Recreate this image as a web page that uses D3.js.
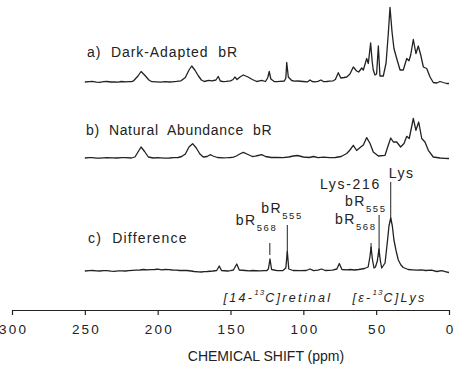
<!DOCTYPE html>
<html>
<head>
<meta charset="utf-8">
<script src="https://cdn.jsdelivr.net/npm/d3@7"></script>
<style>
  html, body { margin: 0; padding: 0; background: #fff; }
  svg { display: block; font-family: "Liberation Sans", Arial, Helvetica, sans-serif; }
</style>
</head>
<body>
<svg id="chart" width="456" height="368"></svg>
<script>
// ---------------- DATA ----------------
const ppmTicks = [300, 250, 200, 150, 100, 50, 0];
const axisTitle = "CHEMICAL SHIFT (ppm)";
const panelLabels = ["a)\u00a0 Dark-Adapted\u00a0 bR", "b)\u00a0 Natural\u00a0 Abundance\u00a0 bR", "c)\u00a0 Difference"];

// [ppm, intensity]
const specA = [[250,0],[247,0.4],[245,0.6],[242,-0.2],[240,-0.3],[237,0.3],[235,0.5],[232,0],[230,0.1],[227,-0.2],[225,0.5],[222,0.1],[220,0.3],[218,0.4],[216.5,1.2],[213.5,6],[211.4,10.5],[209,7],[206,2],[204,0.3],[201,0.2],[198,-0.2],[195,0.4],[192,0],[190,0.2],[187,0.6],[184,1.2],[181,4.5],[178.5,12],[176.6,16],[174.5,12],[172,6],[170,2],[168,0.5],[165,1.6],[162.7,1.1],[160,2],[158.4,5.5],[157,1],[155,0.3],[153,0.6],[150,1.2],[148.2,2.5],[147,5],[145.5,2.5],[143.5,5],[141.2,7],[138,5],[135,2.5],[132,0.5],[130,1.2],[128.6,1.6],[126,0.5],[124.5,4],[123.4,10.5],[122.3,3],[120,0.5],[118,0.3],[116,0.6],[113,1],[112,4],[111.4,19.5],[110.3,5],[108,1.5],[106,0.8],[104,1],[100,0.5],[97,0.2],[95.4,2],[94,0.5],[92,0.2],[90,0.6],[87.9,2],[86,0.3],[84,0.5],[82,0.8],[79.5,1.2],[78,2.5],[76,9.3],[74.3,4],[72,4.5],[70.2,5],[68,8],[65.7,15],[63.4,11],[62,10],[59.9,14],[58.8,12],[56.5,23.5],[55.4,18.5],[53.8,39],[52.7,20],[52,12],[50.8,7],[49.7,8],[48.5,36],[47.4,6],[45.1,6],[43.2,19],[41.7,48],[40.5,74.5],[39.1,50],[37.8,33.5],[35.9,23.5],[33.6,12],[31.4,12],[29,23.5],[27.5,21.3],[26.3,27],[24.5,42.5],[22.7,28.5],[21.1,36],[19.4,27],[17.6,15],[15.3,13.5],[13,5],[10.8,-0.5],[8.4,-1],[6.2,0.5],[4,-0.5],[1.6,-1.5],[0,-1.5]];

const specB = [[250,0],[247,0.3],[245,0.4],[242,-0.1],[240,-0.2],[237,0.2],[235,0.4],[231,0.1],[228,0],[225,0.3],[222,0.3],[218,0],[215.6,1],[213.5,6],[211.4,11],[209,6.5],[206.4,1],[203,0],[200,0.3],[198,0.2],[195,-0.1],[192,0],[189,0.3],[186,0.5],[183.5,1.5],[181,4],[178.5,11],[176,14.3],[173.5,10],[171,4],[168.7,1],[166,1.5],[164,3.3],[162,2],[159,0.5],[155,0.2],[152,0.3],[150,0.5],[148,0.8],[146,2],[143,4.5],[141.2,5.6],[138,3.5],[135,1.5],[133,1.8],[131,2.5],[128.6,3.3],[126,1.5],[122,0.5],[118,0.5],[114,0.3],[110,1],[106.9,2],[104,2.5],[100,1],[96,0.5],[93,1.5],[90,0.3],[86,0.8],[82,0.3],[78,0.5],[74,1.5],[70.2,4.5],[68,8],[65.7,12.7],[63.4,7.5],[60.6,11],[58.8,13],[56.5,20.4],[54.2,14.5],[52,6],[48.5,2],[43.9,2.7],[41.7,12.7],[40,20],[38.2,16],[35.9,16],[33.2,11],[30.9,14.5],[29,21.7],[27.3,19.5],[24.5,39.5],[22.7,27.7],[20.8,36],[18.7,19.5],[16.5,16],[14.2,7.7],[10.8,1],[6.2,0],[3,-0.3],[0.5,-0.5],[0,-0.5]];

const specC = [[250,0],[247,0.4],[245,0.5],[242,0.1],[240,0],[237,0.4],[235,0.3],[232,-0.1],[230,-0.3],[227,0.1],[225,0.2],[222,0],[220,0.3],[217,0.6],[215,0.8],[212,1],[210,1.5],[207,1.1],[205,1.3],[202,1.5],[200,1.8],[197,1.2],[195,1.5],[192,1.3],[190,1],[187,0.8],[185,0.5],[182,0.7],[180,0.5],[177,0],[175,-0.5],[172,-0.8],[170,-1],[168,-0.6],[166,-0.5],[162,0],[159.5,0.5],[157.7,5],[156.2,0.5],[152,0],[150,0.4],[148,1],[145.7,7],[144,1],[140,0.5],[137,0.2],[135,0.5],[130,0.2],[127,0.4],[125,0.5],[124,2],[122.9,12],[121.8,1.5],[118,0.3],[114,0.5],[112,3],[111,19.5],[110,2],[107,0.5],[102,0.3],[98,0.5],[95.4,2],[93,0.3],[90,0.8],[87.4,2],[85,0.5],[80,0.8],[77,2],[75.3,7.5],[73.5,1.5],[70,1.2],[68,1.5],[65,1],[62,1.5],[58,2.5],[55.5,4],[54.2,15],[53.5,24],[52.6,12],[51.5,3],[50.5,4],[49.2,10],[48.1,22],[47.1,10],[46.2,3],[43.9,8],[42.4,28],[41.2,45],[40,53],[38.9,45],[37.8,31],[36.3,20],[34.8,11],[33,6],[31.4,3.5],[28,1.5],[25,1.2],[22,0.8],[19,1.1],[16,0.5],[12,0.8],[8.4,-0.5],[5,0.3],[2,-0.8],[0,-1.5]];

// peak annotations on the difference spectrum
const peakNames = ["bR", "bR", "bR", "bR", "Lys"];
const peakSubs  = ["568", "555", "568", "555", ""];
const peakPpm   = [123, 111, 53.5, 48, 40];
const groupLabel = "Lys-216";
const isotopeLabels = [["[14-", "13", "C]retinal"], ["[\u03b5-", "13", "C]Lys"]];

// ---------------- LAYOUT ----------------
const svg = d3.select("#chart");
const ink = "#222";

const x = d3.scaleLinear().domain([300, 0]).range([12, 449]);
const baselines = [82, 158, 271];
const yScales = baselines.map(b => d3.scaleLinear().domain([0, 100]).range([b, b - 100]));
const spectra = [specA, specB, specC];

spectra.forEach((s, i) => {
  const line = d3.line().x(d => x(d[0])).y(d => yScales[i](d[1])).curve(d3.curveLinear);
  svg.append("path").datum(s).attr("d", line)
    .attr("fill", "none").attr("stroke", ink).attr("stroke-width", 1.3)
    .attr("stroke-linejoin", "round");
});

// panel labels
const labelPos = [{x: 87, y: 57.3, w: 150}, {x: 86, y: 135, w: 185.5}, {x: 88, y: 242.7, w: 98.5}];
panelLabels.forEach((t, i) => {
  svg.append("text").attr("x", labelPos[i].x).attr("y", labelPos[i].y)
    .attr("textLength", labelPos[i].w).attr("lengthAdjust", "spacing")
    .attr("font-size", 14).attr("fill", ink).text(t);
});

// peak annotations
const annLayout = [
  {top: 243, bot: 255, dx: -34, ty: 225},
  {top: 225, bot: 257, dx: -26, ty: 213},
  {top: 243, bot: 253, dx: -36, ty: 223.5},
  {top: 215, bot: 257, dx: -34, ty: 205.5},
  {top: 182, bot: 220, dx: -2,  ty: 178}
];
peakPpm.forEach((p, i) => {
  const lx = x(p), L = annLayout[i];
  svg.append("line").attr("x1", lx).attr("x2", lx).attr("y1", L.top).attr("y2", L.bot)
    .attr("stroke", ink).attr("stroke-width", 1);
  const t = svg.append("text").attr("x", lx + L.dx).attr("y", L.ty)
    .attr("font-size", 14).attr("letter-spacing", 1.5).attr("fill", ink);
  t.append("tspan").text(peakNames[i]);
  if (peakSubs[i]) {
    t.append("tspan").attr("dy", 6.3).attr("dx", 0).attr("font-size", 9.5)
      .attr("letter-spacing", 1.6).text(peakSubs[i]);
  }
});
svg.append("text").attr("x", x(peakPpm[3]) + 2).attr("y", 188.8)
  .attr("text-anchor", "end").attr("font-size", 14).attr("letter-spacing", 1.7)
  .attr("fill", ink).text(groupLabel);

// isotope labels (italic)
const isoPos = [{x: 223.5, y: 301.7}, {x: 352.5, y: 301.7}];
isotopeLabels.forEach((parts, i) => {
  const t = svg.append("text").attr("x", isoPos[i].x).attr("y", isoPos[i].y)
    .attr("font-size", 12.5).attr("font-style", "italic").attr("letter-spacing", 2.3).attr("fill", ink);
  t.append("tspan").text(parts[0]);
  t.append("tspan").attr("dy", -7).attr("font-size", 8).attr("letter-spacing", 1).text(parts[1]);
  t.append("tspan").attr("dy", 7).text(parts[2]);
});

// axis
const axis = d3.axisBottom(x).tickValues(ppmTicks).tickSizeInner(5).tickSizeOuter(0).tickPadding(9)
  .tickFormat(d3.format("d"));
const gAxis = svg.append("g").attr("transform", "translate(0,310)").call(axis);
gAxis.select(".domain").attr("stroke", ink).attr("stroke-width", 1.2);
gAxis.selectAll(".tick line").attr("stroke", ink).attr("stroke-width", 1.2);
gAxis.selectAll(".tick text").attr("font-size", 13.5).attr("font-family", null)
  .attr("letter-spacing", 2.2).attr("dx", 1.1).attr("fill", ink);

svg.append("text").attr("x", 266).attr("y", 361).attr("text-anchor", "middle")
  .attr("font-size", 14).attr("fill", ink).text(axisTitle);
</script>
</body>
</html>
